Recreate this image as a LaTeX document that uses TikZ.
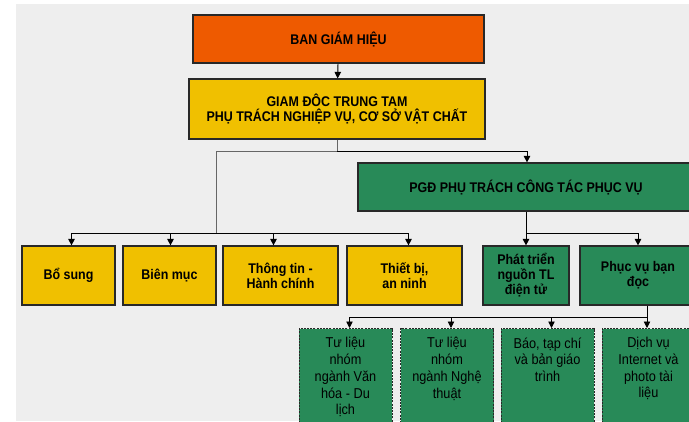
\documentclass[tikz,border=0pt]{standalone}
\usepackage{fontspec}
\usetikzlibrary{arrows.meta}
\newfontfamily\orgfont[FakeStretch=0.89]{Liberation Sans}
\definecolor{bghorange}{RGB}{238,90,0}
\definecolor{unityellow}{RGB}{240,192,0}
\definecolor{unitgreen}{RGB}{40,138,88}
\definecolor{paper}{RGB}{238,238,238}
\definecolor{edge}{RGB}{40,40,40}
\newcommand{\toptext}[1]{\parbox[t][104pt][t]{90pt}{\vspace*{5pt}\centering #1}}
\tikzset{
  unit/.style={draw=edge, line width=1.2pt, rectangle, align=center, inner sep=0pt,
    font=\orgfont\bfseries\fontsize{14}{15}\selectfont},
  subunit/.style={draw=edge, line width=1pt, dash pattern=on 2pt off 1.2pt, rectangle,
    fill=unitgreen, anchor=north, inner sep=0pt, minimum width=93, minimum height=112,
    font=\orgfont\fontsize{14.3}{16.7}\selectfont},
  link/.style={draw=black, line width=0.9pt, ->, >={Triangle[length=6.5pt,width=6.5pt]}}
}

\begin{document}
\begin{tikzpicture}[x=1pt, y=-1pt]
				\useasboundingbox (0,0) rectangle (689,421);
				\fill[white] (0,0) rectangle (689,421);
				\fill[paper] (16,4) rectangle (689,421);
				\clip (16,4) rectangle (689,421);
				% top levels
				\node[unit, fill=bghorange, minimum width=291, minimum height=48] (bgh) at (338.5,39) {BAN GIÁM HIỆU};
				\node[unit, fill=unityellow, minimum width=296, minimum height=60] (gd) at (337,109) {GIAM ĐÔC TRUNG TAM\\PHỤ TRÁCH NGHIỆP VỤ, CƠ SỞ VẬT CHẤT};
				\node[unit, fill=unitgreen, minimum width=336, minimum height=48] (pgd) at (526,187) {PGĐ PHỤ TRÁCH CÔNG TÁC PHỤC VỤ};
				% second level
				\node[unit, fill=unityellow, minimum width=93, minimum height=59] (bosung) at (68.5,275.5) {Bổ sung};
				\node[unit, fill=unityellow, minimum width=93, minimum height=59] (bienmuc) at (169.5,275.5) {Biên mục};
				\node[unit, fill=unityellow, minimum width=115, minimum height=59] (thongtin) at (280.5,275.5) {Thông tin -\\Hành chính};
				\node[unit, fill=unityellow, minimum width=115, minimum height=59] (thietbi) at (404.5,275.5) {Thiết bị,\\an ninh};
				\node[unit, fill=unitgreen, minimum width=86, minimum height=59] (ptn) at (526,275.5) {Phát triển\\nguồn TL\\điện tử};
				\node[unit, fill=unitgreen, minimum width=116, minimum height=59] (pvbd) at (638,275.5) {Phục vụ bạn\\đọc};
				% third level
				\node[subunit] (tlvh) at (345.5,328) {\toptext{Tư liệu\\nhóm\\ngành Văn\\hóa - Du\\lịch}};
				\node[subunit] (tlnt) at (447,328) {\toptext{Tư liệu\\nhóm\\ngành Nghệ\\thuật}};
				\node[subunit] (bao) at (547.5,328) {\toptext{Báo, tạp chí\\và bản giáo\\trình}};
				\node[subunit] (dichvu) at (648.5,328) {\toptext{Dịch vụ\\Internet và\\photo tài\\liệu}};
				% junctions
				\coordinate (j1) at (337,151);
				\coordinate (j2) at (216,233);
				\coordinate (j3) at (526,233);
				\coordinate (j4) at (647,317);
				\draw[link] (bgh) -- (gd);
				\draw[draw=black!60, line width=0.9pt] (gd.south) -- (j1);
				\draw[link] (j1) -| ([xshift=1]pgd.north);
				\draw[draw=black!60, line width=0.9pt] (j1) -| (j2);
				\draw[link] (j2) -| ([xshift=3]bosung.north);
				\draw[link] (j2) -| ([xshift=1]bienmuc.north);
				\draw[link] (j2) -| ([xshift=-7]thongtin.north);
				\draw[link] (j2) -| ([xshift=4]thietbi.north);
				\draw[link] (pgd) -- (ptn);
				\draw[link] (j3) -| (pvbd.north);
				\draw[line width=0.9pt] (pvbd.south -| j4) -- (j4);
				\draw[link] (j4) -| ([xshift=4]tlvh.north);
				\draw[link] (j4) -| ([xshift=4]tlnt.north);
				\draw[link] (j4) -| ([xshift=4]bao.north);
				\draw[link] (j4) -- ([xshift=-1.5]dichvu.north);
			\end{tikzpicture}
\end{document}
